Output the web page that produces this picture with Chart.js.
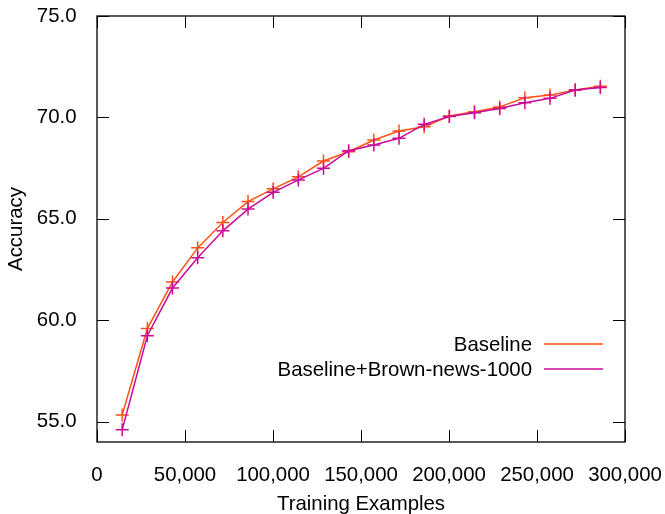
<!DOCTYPE html>
<html>
<head>
<meta charset="utf-8">
<script src="https://cdn.jsdelivr.net/npm/chart.js@4.4.0/dist/chart.umd.min.js"></script>
<style>
  html, body { margin: 0; padding: 0; background: #fff; }
</style>
</head>
<body>
<canvas id="acc" width="665" height="514"></canvas>
<script>
// Learning curve data
var examples = [14300, 28600, 42900, 57200, 71500, 85800, 100100, 114400, 128700, 143000,
                157300, 171600, 185900, 200200, 214500, 228800, 243100, 257400, 271700, 286000];
var baseline = [55.33, 59.59, 61.89, 63.57, 64.82, 65.85, 66.48, 67.07, 67.85, 68.31,
                68.89, 69.33, 69.54, 70.07, 70.28, 70.52, 70.97, 71.10, 71.35, 71.54];
var brown = [54.60, 59.24, 61.59, 63.08, 64.41, 65.48, 66.31, 66.92, 67.49, 68.36,
             68.64, 68.97, 69.66, 70.05, 70.23, 70.44, 70.72, 70.94, 71.35, 71.48];
var seriesNames = ["Baseline", "Baseline+Brown-news-1000"];
var yTicks = [55, 60, 65, 70, 75];
var xTicks = [0, 50000, 100000, 150000, 200000, 250000, 300000];

var FONT = '"Liberation Sans", Arial, sans-serif';
var FSIZE = 20.4;
var orange = '#ff5216';
var magenta = '#cc0a98';

function pts(vals) {
    return vals.map(function (v, i) { return { x: examples[i], y: v }; });
}

// gnuplot style frame: box with inward ticks on all four sides
var frame = {
    id: 'frame',
    afterDraw: function (chart) {
        var ctx = chart.ctx, a = chart.chartArea;
        var xs = chart.scales.x, ys = chart.scales.y;
        ctx.save();
        ctx.strokeStyle = '#000';
        ctx.lineWidth = 1.3;
        ctx.strokeRect(a.left, a.top, a.right - a.left, a.bottom - a.top);
        ctx.lineWidth = 1;
        ctx.beginPath();
        xs.ticks.forEach(function (t) {
            var px = Math.round(xs.getPixelForValue(t.value)) + 0.5;
            ctx.moveTo(px, a.bottom); ctx.lineTo(px, a.bottom - 12);
            ctx.moveTo(px, a.top); ctx.lineTo(px, a.top + 12);
        });
        ys.ticks.forEach(function (t) {
            var py = Math.round(ys.getPixelForValue(t.value)) + 0.5;
            ctx.moveTo(a.left, py); ctx.lineTo(a.left + 12, py);
            ctx.moveTo(a.right, py); ctx.lineTo(a.right - 12, py);
        });
        ctx.stroke();
        ctx.restore();
    }
};

// key inside the plot, text to the left of the line sample
var key = {
    id: 'key',
    afterDraw: function (chart) {
        var ctx = chart.ctx, a = chart.chartArea;
        ctx.save();
        ctx.font = FSIZE + 'px ' + FONT;
        ctx.textAlign = 'right';
        ctx.textBaseline = 'middle';
        chart.data.datasets.forEach(function (ds, i) {
            var y = a.top + 328 + i * 25;
            ctx.fillStyle = '#000';
            ctx.fillText(ds.label, a.right - 93, y + 1);
            ctx.strokeStyle = ds.borderColor;
            ctx.lineWidth = 1.5;
            ctx.beginPath();
            ctx.moveTo(a.right - 81, y);
            ctx.lineTo(a.right - 22, y);
            ctx.stroke();
        });
        ctx.restore();
    }
};

function noPad(s) {
    s.paddingTop = 0; s.paddingBottom = 0;
    s.paddingLeft = 0; s.paddingRight = 0;
}

new Chart(document.getElementById('acc'), {
    type: 'line',
    data: {
        datasets: [{
            label: seriesNames[0],
            data: pts(baseline),
            borderColor: orange,
            backgroundColor: orange,
            borderWidth: 1.5,
            pointStyle: 'cross',
            pointRadius: 6.5,
            pointBorderWidth: 1.5,
            order: 2
        }, {
            label: seriesNames[1],
            data: pts(brown),
            borderColor: magenta,
            backgroundColor: magenta,
            borderWidth: 1.5,
            pointStyle: 'cross',
            pointRadius: 6.5,
            pointBorderWidth: 1.5,
            order: 1
        }]
    },
    options: {
        responsive: false,
        animation: false,
        devicePixelRatio: 1,
        layout: { padding: { left: 0, top: 16, right: 40, bottom: 0 } },
        plugins: {
            legend: { display: false },
            tooltip: { enabled: false }
        },
        elements: { line: { tension: 0 } },
        scales: {
            x: {
                type: 'linear',
                min: 0,
                max: 300000,
                grid: { display: false },
                border: { display: false },
                afterBuildTicks: function (s) {
                    s.ticks = xTicks.map(function (v) { return { value: v }; });
                },
                afterFit: function (s) { s.height = 72; noPad(s); },
                ticks: {
                    padding: 13,
                    maxRotation: 0,
                    color: '#000',
                    font: { size: FSIZE, family: FONT },
                    callback: function (v) { return v.toLocaleString('en-US'); }
                },
                title: {
                    display: true,
                    text: 'Training Examples',
                    color: '#000',
                    padding: { top: 0, bottom: -3 },
                    font: { size: FSIZE, family: FONT }
                }
            },
            y: {
                min: 54,
                max: 75,
                grid: { display: false },
                border: { display: false },
                afterBuildTicks: function (s) {
                    s.ticks = yTicks.map(function (v) { return { value: v }; });
                },
                afterFit: function (s) { s.width = 97; noPad(s); },
                ticks: {
                    padding: 12.5,
                    color: '#000',
                    font: { size: FSIZE, family: FONT },
                    callback: function (v) { return v.toFixed(1); }
                },
                title: {
                    display: true,
                    text: 'Accuracy',
                    color: '#000',
                    padding: { top: 4, bottom: 0 },
                    font: { size: FSIZE, family: FONT }
                }
            }
        }
    },
    plugins: [frame, key]
});
</script>
</body>
</html>
